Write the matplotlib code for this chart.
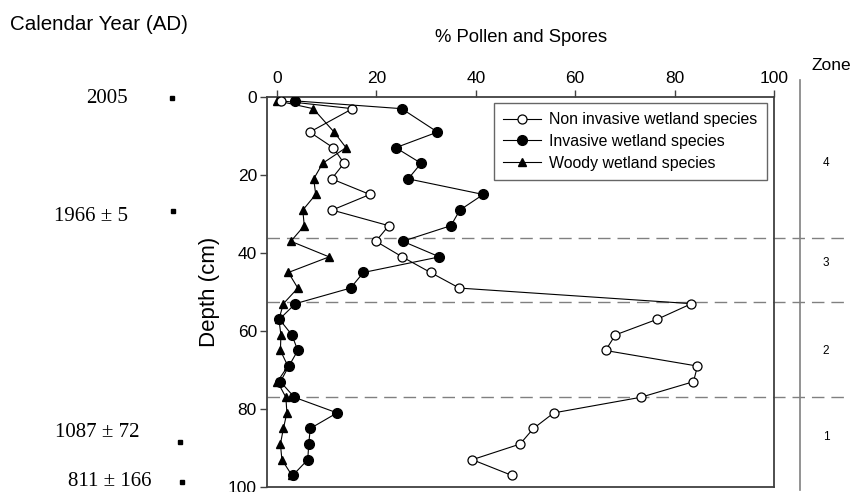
import numpy as np
import matplotlib.pyplot as plt
import matplotlib.transforms as mtransforms

plt.rcParams['font.family'] = ['Liberation Sans', 'DejaVu Sans']

# depth of each sample (cm)
depth = [1, 3, 9, 13, 17, 21, 25, 29, 33, 37, 41, 45, 49, 53, 57, 61, 65,
         69, 73, 77, 81, 85, 89, 93, 97]
non_invasive = [0.9, 15.2, 6.6, 11.3, 13.5, 11.0, 18.7, 11.1, 22.5, 19.9, 25.2,
                30.9, 36.7, 83.4, 76.5, 68.1, 66.1, 84.6, 83.8, 73.2, 55.7,
                51.6, 48.9, 39.3, 47.2]
invasive = [3.6, 25.1, 32.3, 23.9, 29.0, 26.4, 41.5, 36.8, 35.0, 25.3, 32.7,
            17.4, 14.8, 3.7, 0.5, 3.0, 4.2, 2.4, 0.7, 3.5, 12.1, 6.7, 6.4,
            6.2, 3.2]
woody = [0.1, 7.3, 11.5, 13.9, 9.2, 7.4, 7.8, 5.2, 5.5, 2.8, 10.5, 2.3, 4.2,
         1.3, 0.4, 0.8, 0.7, 2.2, 0.1, 1.8, 2.0, 1.3, 0.7, 1.0, 3.0]

zone_bounds = [36.2, 52.5, 77.0]
zone_labels = ['4', '3', '2', '1']
zone_label_depth = [16.9, 42.6, 65.1, 87.2]

date_labels = ['2005', '1966 \u00b1 5', '1087 \u00b1 72', '811 \u00b1 166']
date_depth = [0.3, 29.2, 88.5, 98.7]

fig = plt.figure(figsize=(8.5, 4.92), dpi=100)
ax = fig.add_axes([0.3137, 0.0102, 0.5969, 0.7927])

ax.plot(woody, depth, '-^', color='black', lw=0.8, ms=5.5, zorder=3,
        label='Woody wetland species')
ax.plot(non_invasive, depth, '-o', color='black', mfc='white', mec='black',
        lw=0.8, ms=6.5, mew=0.9, zorder=4, label='Non invasive wetland species')
ax.plot(invasive, depth, '-o', color='black', lw=0.8, ms=7, zorder=5,
        label='Invasive wetland species')

ax.set_xlim(-2.07, 100)
ax.set_ylim(100, 0)
ax.set_xticks([0, 20, 40, 60, 80, 100])
ax.set_yticks([0, 20, 40, 60, 80, 100])
ax.xaxis.tick_top()
ax.tick_params(axis='both', direction='out', length=5, width=1,
               labelsize=12.5, color='#404040', pad=3)
ax.tick_params(axis='y', pad=2)
for s in ax.spines.values():
    s.set_color('#404040')
    s.set_linewidth(1.3)

ax.set_ylabel('Depth (cm)', fontsize=16, labelpad=6)

h, l = ax.get_legend_handles_labels()
order = [1, 2, 0]
leg = ax.legend([h[i] for i in order], [l[i] for i in order],
                loc='upper right', bbox_to_anchor=(0.986, 0.985),
                fontsize=11.4, frameon=True, fancybox=False,
                handlelength=2.4, handletextpad=0.5, borderpad=0.6,
                labelspacing=0.42, borderaxespad=0)
leg.get_frame().set_edgecolor('#404040')
leg.get_frame().set_linewidth(1.0)

trans = mtransforms.blended_transform_factory(ax.transAxes, ax.transData)

# zone boundaries
for b in zone_bounds:
    ax.plot([0, 1.16], [b, b], transform=trans, color='#808080', lw=1.0,
            dashes=(9, 5), clip_on=False, zorder=1)

# zone column
ax.plot([1.051, 1.051], [-4.4, 100.8], transform=trans, color='#808080',
        lw=1.2, clip_on=False)
for lab, d in zip(zone_labels, zone_label_depth):
    ax.text(1.1025, d, lab, transform=trans, ha='center', va='center',
            fontsize=8.5)
fig.text(811 / 850, 1 - 65 / 492, 'Zone', ha='left', va='center',
         fontsize=12.5)

# dates
text_dx = [-0.273, -0.273, -0.250, -0.226]
text_dd = [0.0, 1.5, -2.5, 0.0]
mark_x = [-0.1867, -0.1847, -0.171, -0.167]
for lab, d, tx, dd, mx in zip(date_labels, date_depth, text_dx, text_dd, mark_x):
    ax.plot([mx], [d], 's', color='black', ms=3.5, transform=trans,
            clip_on=False)
    ax.text(tx, d + dd, lab, transform=trans, ha='right', va='center',
            fontsize=15, family=['Liberation Serif', 'DejaVu Serif'])

fig.text(521 / 850, 1 - 37 / 492, '% Pollen and Spores', ha='center',
         va='center', fontsize=13.3)
fig.text(10 / 850, 1 - 25 / 492, 'Calendar Year (AD)', ha='left',
         va='center', fontsize=14.8)

fig.savefig('out.png', dpi=100)
